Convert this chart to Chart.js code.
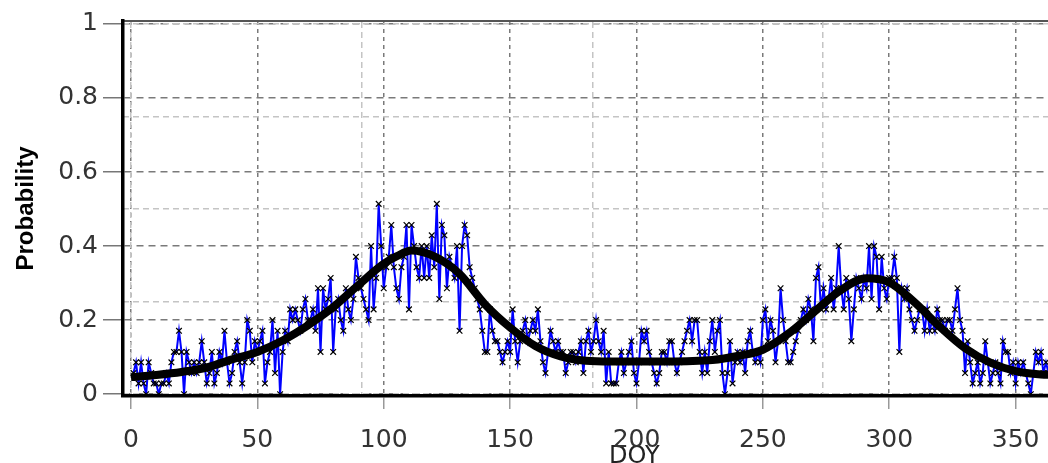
<!DOCTYPE html>
<html>
<head>
<meta charset="utf-8">
<script src="https://cdn.jsdelivr.net/npm/chart.js@4/dist/chart.umd.min.js"></script>
<style>
  html, body { margin: 0; padding: 0; overflow: hidden; background: #fff; }
  #wrap { width: 1151px; height: 480px; position: relative; }
</style>
</head>
<body>
<div id="wrap"><canvas id="chart"></canvas></div>
<script>
// tick positions
const xTicks = [0, 50, 100, 150, 200, 250, 300, 350];
const yTicks = [0, 0.2, 0.4, 0.6, 0.8, 1];
const quarterDays = [0, 91.25, 182.5, 273.75, 365];
const quarterProb = [0, 0.25, 0.5, 0.75, 1];

// daily probability (DOY 1-91, 92-182, 183-273, 274-365)
const probQ1 = [0.057,0.086,0.029,0.086,0.029,0,0.086,0.057,0.029,0.029,
  0,0.029,0.029,0.057,0.029,0.086,0.114,0.114,0.171,0.114,
  0,0.114,0.086,0.057,0.086,0.057,0.086,0.143,0.086,0.029,
  0.057,0.114,0.029,0.057,0.114,0.086,0.171,0.086,0.029,0.057,
  0.114,0.143,0.086,0.029,0.086,0.2,0.171,0.086,0.143,0.114,
  0.143,0.171,0.029,0.086,0.114,0.2,0.057,0.171,0,0.114,
  0.171,0.143,0.229,0.2,0.229,0.2,0.171,0.229,0.257,0.2,
  0.2,0.229,0.171,0.286,0.114,0.286,0.229,0.257,0.314,0.114,
  0.229,0.257,0.2,0.171,0.286,0.229,0.2,0.257,0.371,0.314,0.286];
const probQ2 = [0.257,0.229,0.2,0.4,0.229,0.314,0.514,0.4,0.286,
  0.343,0.371,0.457,0.343,0.286,0.257,0.343,0.371,0.457,0.229,
  0.457,0.4,0.343,0.314,0.4,0.314,0.4,0.314,0.429,0.343,
  0.514,0.257,0.457,0.429,0.286,0.371,0.343,0.314,0.4,0.171,
  0.4,0.457,0.429,0.343,0.314,0.286,0.257,0.229,0.171,0.114,
  0.114,0.229,0.171,0.143,0.143,0.114,0.086,0.114,0.143,0.114,
  0.229,0.143,0.086,0.143,0.171,0.2,0.143,0.171,0.2,0.171,
  0.229,0.143,0.086,0.057,0.114,0.171,0.143,0.114,0.143,0.114,
  0.114,0.057,0.086,0.114,0.114,0.086,0.114,0.143,0.057,0.143,
  0.171,0.114];
const probQ3 = [0.143,0.2,0.143,0.114,0.171,0.029,0.114,0.029,
  0.029,0.029,0.086,0.114,0.057,0.086,0.114,0.143,0.057,0.029,
  0.086,0.171,0.143,0.171,0.114,0.086,0.057,0.029,0.057,0.114,
  0.114,0.086,0.143,0.143,0.086,0.057,0.086,0.114,0.143,0.171,
  0.2,0.143,0.2,0.2,0.114,0.057,0.114,0.057,0.143,0.2,
  0.114,0.171,0.2,0.057,0,0.057,0.143,0.029,0.086,0.114,
  0.086,0.114,0.057,0.143,0.171,0.114,0.086,0.114,0.086,0.2,
  0.229,0.143,0.2,0.171,0.086,0.143,0.286,0.2,0.143,0.086,
  0.086,0.114,0.143,0.171,0.2,0.229,0.2,0.257,0.229,0.143,
  0.314,0.343,0.229];
const probQ4 = [0.286,0.229,0.257,0.314,0.229,0.286,0.4,0.286,0.229,0.314,
  0.257,0.143,0.229,0.314,0.286,0.257,0.314,0.286,0.4,0.257,
  0.4,0.371,0.229,0.371,0.286,0.257,0.314,0.314,0.371,0.314,
  0.114,0.286,0.257,0.286,0.229,0.2,0.171,0.2,0.229,0.229,
  0.171,0.229,0.171,0.2,0.171,0.229,0.2,0.2,0.171,0.2,
  0.2,0.171,0.229,0.286,0.2,0.171,0.057,0.143,0.086,0.029,
  0.057,0.086,0.029,0.057,0.143,0.086,0.029,0.057,0.086,0.057,
  0.029,0.143,0.114,0.114,0.057,0.086,0.029,0.086,0.057,0.086,
  0.057,0.029,0,0.057,0.114,0.086,0.114,0.057,0.086,0.057,
  0.057,0.029];

// fitted curve
const fitDays = [0,10,20,30,40,50,60,70,80,90,100,105,111,120,130,140,150,160,170,180,
  190,200,210,220,230,240,250,260,270,280,291,300,310,320,330,340,350,360,365];
const fitProb = [0.046,0.052,0.06,0.072,0.094,0.114,0.145,0.186,0.235,0.295,0.352,0.372,0.388,0.372,0.325,0.243,0.18,0.13,0.102,0.09,
  0.088,0.088,0.088,0.089,0.092,0.103,0.12,0.163,0.22,0.277,0.313,0.302,0.248,0.182,0.124,0.085,0.062,0.053,0.052];

const daily = [...probQ1, ...probQ2, ...probQ3, ...probQ4].map((p, i) => ({ x: i + 1, y: p }));
const fit = fitDays.map((d, i) => ({ x: d, y: fitProb[i] }));

const xMin = -3.15, xMax = 401.5;
const yMin = -0.005, yMax = 1.008;
const tickFont = { family: 'DejaVu Sans', size: 25 };

new Chart(document.getElementById('chart'), {
  type: 'line',
  data: {
    datasets: [
      {
        label: 'fit',
        data: fit,
        borderColor: '#000',
        borderWidth: 8,
        pointRadius: 0,
        cubicInterpolationMode: 'monotone'
      },
      {
        label: 'daily',
        data: daily,
        borderColor: '#0000ff',
        borderWidth: 2,
        tension: 0,
        pointStyle: 'crossRot',
        pointRadius: 4,
        pointBorderColor: '#000',
        pointBorderWidth: 1.2,
        pointBackgroundColor: '#000'
      }
    ]
  },
  options: {
    responsive: true,
    maintainAspectRatio: false,
    animation: false,
    layout: { padding: 0 },
    plugins: { legend: { display: false }, tooltip: { enabled: false } },
    scales: {
      x: {
        type: 'linear', position: 'bottom', min: xMin, max: xMax,
        afterBuildTicks: s => { s.ticks = xTicks.map(v => ({ value: v })); },
        afterFit: s => { s.height = 84; },
        ticks: { font: tickFont, color: '#333', padding: 16, maxRotation: 0, autoSkip: false },
        grid: { color: '#7a7a7a', lineWidth: 1.5, tickLength: 13, tickColor: '#999', tickWidth: 1.5 },
        border: { color: '#000', width: 3.5, dash: [4, 4], z: 1 },
        title: { display: true, text: 'DOY', font: { family: 'DejaVu Sans', size: 24 }, color: '#222', padding: 9 }
      },
      y: {
        type: 'linear', position: 'left', min: yMin, max: yMax,
        afterBuildTicks: s => { s.ticks = yTicks.map(v => ({ value: v })); },
        afterFit: s => { s.width = 123; },
        ticks: { font: tickFont, color: '#333', padding: 5, callback: v => String(v) },
        grid: { color: '#7a7a7a', lineWidth: 1.5, tickLength: 20, tickColor: '#777', tickWidth: 1.5 },
        border: { color: '#000', width: 3.5, dash: [7, 5], z: 1 },
        title: { display: true, text: 'Probability', font: { family: 'Liberation Sans', size: 24, weight: 'bold' }, color: '#000', padding: 12 }
      },
      xq: {
        type: 'linear', position: 'top', min: xMin, max: xMax,
        afterBuildTicks: s => { s.ticks = quarterDays.map(v => ({ value: v })); },
        afterFit: s => { s.height = 21; },
        ticks: { display: false },
        grid: { color: '#c4c4c4', lineWidth: 1.5, drawTicks: false },
        border: { display: true, color: '#555', width: 2, dash: [6, 4] }
      },
      yq: {
        type: 'linear', position: 'right', min: yMin, max: yMax,
        afterBuildTicks: s => { s.ticks = quarterProb.map(v => ({ value: v })); },
        afterFit: s => { s.width = 0; },
        ticks: { display: false },
        grid: { color: '#c4c4c4', lineWidth: 1.5, drawTicks: false },
        border: { display: false, dash: [6, 4] }
      }
    }
  }
});
</script>
</body>
</html>
